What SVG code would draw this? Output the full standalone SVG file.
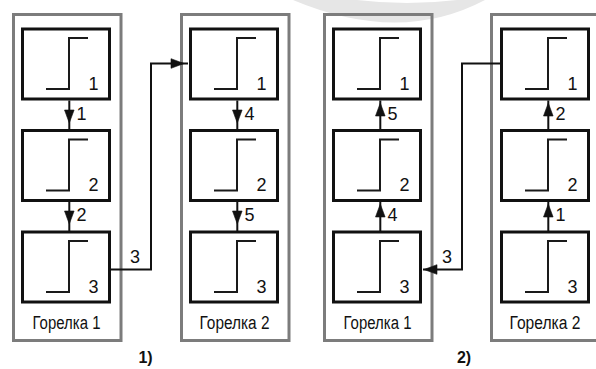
<svg xmlns="http://www.w3.org/2000/svg" width="596" height="369" viewBox="0 0 596 369" xmlns:xlink="http://www.w3.org/1999/xlink">
<style>
.frame{fill:none;stroke:#7c7c7c;stroke-width:3}
.box{fill:#fff;stroke:#111;stroke-width:3}
.step{fill:none;stroke:#1a1a1a;stroke-width:2}
.conn{fill:none;stroke:#111;stroke-width:2}
.ah{fill:#111;stroke:#111;stroke-width:0.6}
text{font-family:"Liberation Sans",Arial,sans-serif;fill:#111}
.num{font-size:18px}
.lbl{font-size:18px;text-anchor:middle}
.cap{font-size:16px;font-weight:bold;text-anchor:middle}
</style>
<defs>
<path id="ahR" class="ah" d="M0,0 L-13,-4.8 L-13,4.8 Z"/>
<g id="unit">
<rect class="box" x="22.5" y="0" width="87" height="70"/>
<path class="step" d="M46,60 H69 V9 H88"/>
</g>
</defs>
<path d="M293,0 Q400,45 485,0 L457,0 Q407,6 357,0 Z" fill="#e6e6e6"/>
<g id="burner1-d1">
<rect class="frame" x="13.5" y="14.5" width="107.5" height="326"/>
<g id="b1-d1-u1"><use xlink:href="#unit" y="29"/><text class="num" x="88.5" y="89.5">1</text></g>
<g id="b1-d1-u2"><use xlink:href="#unit" y="130.5"/><text class="num" x="88.5" y="191">2</text></g>
<g id="b1-d1-u3"><use xlink:href="#unit" y="232"/><text class="num" x="88.5" y="292.5">3</text></g>
<text class="lbl" x="66.5" y="328.5" textLength="68" lengthAdjust="spacingAndGlyphs">Горелка 1</text>
</g>
<g id="burner2-d1" transform="translate(168,0)">
<rect class="frame" x="13.5" y="14.5" width="107.5" height="326"/>
<g id="b2-d1-u1"><use xlink:href="#unit" y="29"/><text class="num" x="88.5" y="89.5">1</text></g>
<g id="b2-d1-u2"><use xlink:href="#unit" y="130.5"/><text class="num" x="88.5" y="191">2</text></g>
<g id="b2-d1-u3"><use xlink:href="#unit" y="232"/><text class="num" x="88.5" y="292.5">3</text></g>
<text class="lbl" x="66.5" y="328.5" textLength="70" lengthAdjust="spacingAndGlyphs">Горелка 2</text>
</g>
<g id="burner1-d2" transform="translate(311,0)">
<rect class="frame" x="13.5" y="14.5" width="107.5" height="326"/>
<g id="b1-d2-u1"><use xlink:href="#unit" y="29"/><text class="num" x="88.5" y="89.5">1</text></g>
<g id="b1-d2-u2"><use xlink:href="#unit" y="130.5"/><text class="num" x="88.5" y="191">2</text></g>
<g id="b1-d2-u3"><use xlink:href="#unit" y="232"/><text class="num" x="88.5" y="292.5">3</text></g>
<text class="lbl" x="66.5" y="328.5" textLength="68" lengthAdjust="spacingAndGlyphs">Горелка 1</text>
</g>
<g id="burner2-d2" transform="translate(479,0)">
<rect class="frame" x="12.5" y="14.5" width="130" height="326"/>
<g id="b2-d2-u1"><use xlink:href="#unit" y="29"/><text class="num" x="88.5" y="89.5">1</text></g>
<g id="b2-d2-u2"><use xlink:href="#unit" y="130.5"/><text class="num" x="88.5" y="191">2</text></g>
<g id="b2-d2-u3"><use xlink:href="#unit" y="232"/><text class="num" x="88.5" y="292.5">3</text></g>
<text class="lbl" x="66" y="328.5" textLength="71" lengthAdjust="spacingAndGlyphs">Горелка 2</text>
</g>
<g id="connectors">
<path class="conn" d="M69.3,100.5 V130 M69.3,200.5 V231.5 M237.3,100.5 V130 M237.3,200.5 V231.5 M380.3,100.5 V130 M380.3,200.5 V231.5 M548.3,100.5 V130 M548.3,200.5 V231.5"/>
<use xlink:href="#ahR" transform="translate(69.3,123) rotate(90)"/>
<use xlink:href="#ahR" transform="translate(69.3,224) rotate(90)"/>
<use xlink:href="#ahR" transform="translate(237.3,123) rotate(90)"/>
<use xlink:href="#ahR" transform="translate(237.3,224) rotate(90)"/>
<use xlink:href="#ahR" transform="translate(380.3,103) rotate(-90)"/>
<use xlink:href="#ahR" transform="translate(380.3,204) rotate(-90)"/>
<use xlink:href="#ahR" transform="translate(548.3,103) rotate(-90)"/>
<use xlink:href="#ahR" transform="translate(548.3,204) rotate(-90)"/>
<text class="num" x="76.5" y="119.5">1</text>
<text class="num" x="76.5" y="220.5">2</text>
<text class="num" x="244.5" y="119.5">4</text>
<text class="num" x="244.5" y="220.5">5</text>
<text class="num" x="387.5" y="119.5">5</text>
<text class="num" x="387.5" y="220.5">4</text>
<text class="num" x="555.5" y="119.5">2</text>
<text class="num" x="555.5" y="220.5">1</text>
<path class="conn" d="M111,269.5 H151 V63.5 H188"/>
<use xlink:href="#ahR" transform="translate(184,63.5)"/>
<text class="lbl" x="135" y="262.5">3</text>
<path class="conn" d="M500,63.5 H462 V269.5 H423"/>
<use xlink:href="#ahR" transform="translate(424,269.5) rotate(180)"/>
<text class="lbl" x="447" y="262.5">3</text>
</g>
<text class="cap" x="145.5" y="363">1)</text>
<text class="cap" x="464" y="363">2)</text>
</svg>
